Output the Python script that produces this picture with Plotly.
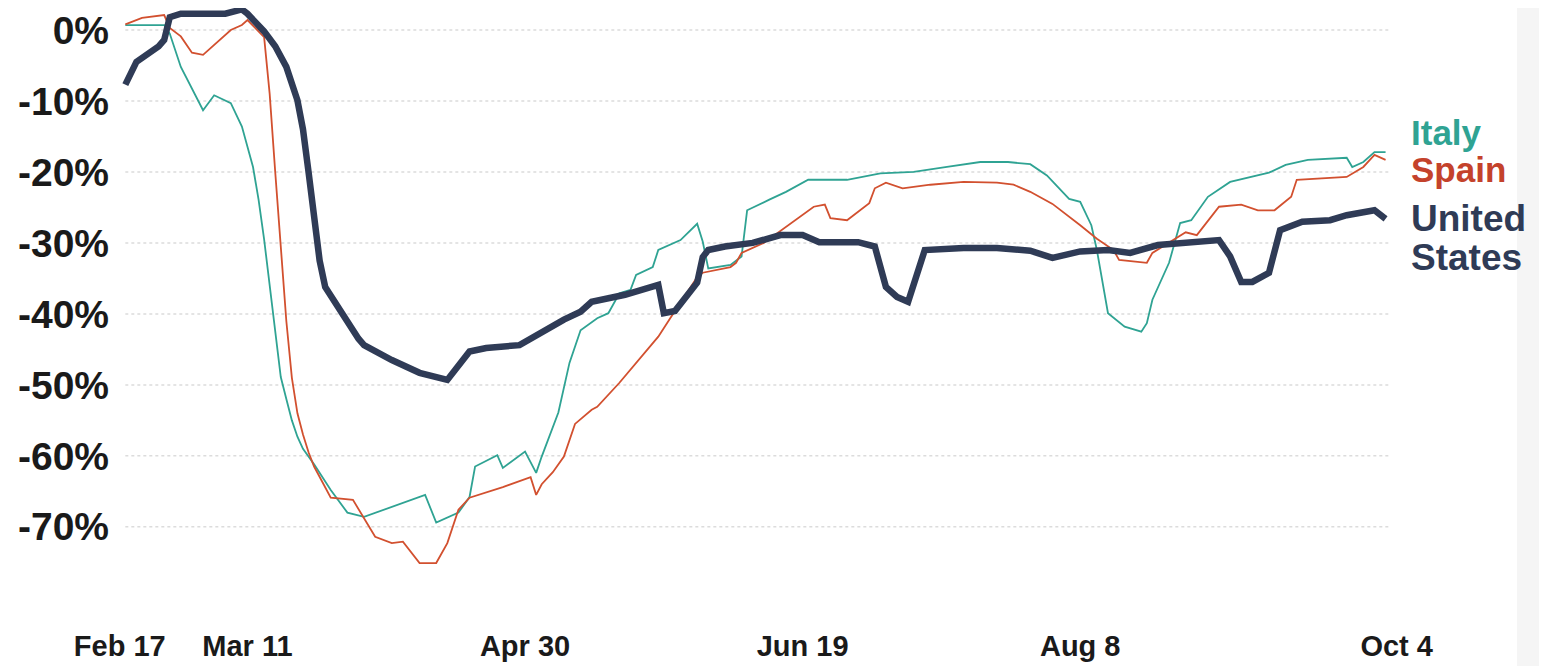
import plotly.graph_objects as go

# mobility change vs baseline
italy_dates = [
    "2020-02-18", "2020-02-25", "2020-02-26", "2020-02-28", "2020-03-03", "2020-03-05",
    "2020-03-08", "2020-03-10", "2020-03-12", "2020-03-13", "2020-03-14", "2020-03-15",
    "2020-03-16", "2020-03-17", "2020-03-18", "2020-03-19", "2020-03-20", "2020-03-21",
    "2020-03-22", "2020-03-23", "2020-03-26", "2020-03-29", "2020-04-01", "2020-04-06",
    "2020-04-12", "2020-04-14", "2020-04-18", "2020-04-20", "2020-04-21", "2020-04-25",
    "2020-04-26", "2020-04-30", "2020-05-02", "2020-05-03", "2020-05-06", "2020-05-08",
    "2020-05-10", "2020-05-13", "2020-05-15", "2020-05-17", "2020-05-19", "2020-05-20",
    "2020-05-23", "2020-05-24", "2020-05-28", "2020-05-31", "2020-06-01", "2020-06-02",
    "2020-06-06", "2020-06-08", "2020-06-09", "2020-06-13", "2020-06-16", "2020-06-20",
    "2020-06-27", "2020-07-03", "2020-07-09", "2020-07-15", "2020-07-21", "2020-07-26",
    "2020-07-30", "2020-08-02", "2020-08-06", "2020-08-08", "2020-08-10", "2020-08-11",
    "2020-08-13", "2020-08-16", "2020-08-19", "2020-08-20", "2020-08-21", "2020-08-24",
    "2020-08-26", "2020-08-28", "2020-08-31", "2020-09-04", "2020-09-11", "2020-09-14",
    "2020-09-18", "2020-09-25", "2020-09-26", "2020-09-28", "2020-09-30", "2020-10-02",
]
italy_values = [
    0.7, 0.7, -0.5, -5.2, -11.3, -9.2,
    -10.3, -13.6, -19.3, -23.9, -29.5, -36,
    -43, -48.9, -52, -55, -57.3, -59,
    -60.1, -61.2, -64.8, -68, -68.6, -67.2,
    -65.5, -69.4, -68, -65.8, -61.5, -59.9,
    -61.7, -59.4, -62.4, -60.1, -53.9, -46.9,
    -42.3, -40.6, -39.9, -37.1, -36.6, -34.5,
    -33.4, -31, -29.6, -27.3, -29.8, -33.6,
    -33.1, -31.9, -25.4, -23.9, -22.8, -21.1,
    -21.1, -20.2, -20, -19.3, -18.6, -18.6,
    -18.9, -20.5, -23.8, -24.2, -27.5, -31,
    -39.9, -41.8, -42.5, -41.3, -38, -32.8,
    -27.2, -26.8, -23.5, -21.4, -20.1, -19,
    -18.3, -18, -19.3, -18.6, -17.2, -17.2,
]

spain_dates = [
    "2020-02-18", "2020-02-21", "2020-02-25", "2020-02-26", "2020-02-28", "2020-03-01",
    "2020-03-03", "2020-03-04", "2020-03-06", "2020-03-08", "2020-03-10", "2020-03-11",
    "2020-03-14", "2020-03-15", "2020-03-16", "2020-03-17", "2020-03-18", "2020-03-19",
    "2020-03-20", "2020-03-21", "2020-03-22", "2020-03-23", "2020-03-26", "2020-03-30",
    "2020-04-03", "2020-04-06", "2020-04-08", "2020-04-11", "2020-04-14", "2020-04-16",
    "2020-04-18", "2020-04-20", "2020-04-26", "2020-05-01", "2020-05-02", "2020-05-03",
    "2020-05-05", "2020-05-07", "2020-05-09", "2020-05-12", "2020-05-13", "2020-05-17",
    "2020-05-20", "2020-05-24", "2020-05-26", "2020-05-31", "2020-06-01", "2020-06-06",
    "2020-06-07", "2020-06-08", "2020-06-12", "2020-06-16", "2020-06-21", "2020-06-23",
    "2020-06-24", "2020-06-27", "2020-07-01", "2020-07-02", "2020-07-04", "2020-07-07",
    "2020-07-12", "2020-07-18", "2020-07-24", "2020-07-27", "2020-07-30", "2020-08-03",
    "2020-08-07", "2020-08-08", "2020-08-11", "2020-08-14", "2020-08-15", "2020-08-20",
    "2020-08-21", "2020-08-24", "2020-08-27", "2020-08-29", "2020-09-02", "2020-09-06",
    "2020-09-09", "2020-09-12", "2020-09-15", "2020-09-16", "2020-09-22", "2020-09-25",
    "2020-09-28", "2020-09-30", "2020-10-02",
]
spain_values = [
    0.8, 1.7, 2.1, 0.3, -0.9, -3.2,
    -3.5, -2.8, -1.4, 0, 0.7, 1.4,
    -1.0, -9, -20, -31, -41, -49,
    -54, -57, -59.5, -61.5, -65.9, -66.2,
    -71.4, -72.3, -72.1, -75.1, -75.1, -72.3,
    -67.6, -65.9, -64.4, -63, -65.5, -64,
    -62.3, -60.1, -55.5, -53.5, -53.1, -49.7,
    -46.9, -43.2, -40.8, -34.8, -34.2, -33.4,
    -32.8, -31.4, -30, -27.7, -24.9, -24.6,
    -26.5, -26.8, -24.4, -22.3, -21.5, -22.3,
    -21.8, -21.4, -21.5, -21.8, -22.8, -24.5,
    -26.8, -27.5, -29.4, -31, -32.4, -32.8,
    -31.4, -30, -28.5, -28.9, -24.9, -24.6,
    -25.4, -25.4, -23.5, -21.1, -20.8, -20.7,
    -19.3, -17.6, -18.3,
]

us_dates = [
    "2020-02-18", "2020-02-20", "2020-02-24", "2020-02-25", "2020-02-26", "2020-02-28",
    "2020-03-07", "2020-03-10", "2020-03-11", "2020-03-14", "2020-03-16", "2020-03-18",
    "2020-03-20", "2020-03-21", "2020-03-22", "2020-03-23", "2020-03-24", "2020-03-25",
    "2020-03-27", "2020-03-31", "2020-04-01", "2020-04-06", "2020-04-11", "2020-04-16",
    "2020-04-20", "2020-04-23", "2020-04-29", "2020-05-02", "2020-05-04", "2020-05-07",
    "2020-05-10", "2020-05-12", "2020-05-18", "2020-05-24", "2020-05-25", "2020-05-27",
    "2020-05-30", "2020-05-31", "2020-06-01", "2020-06-02", "2020-06-05", "2020-06-10",
    "2020-06-15", "2020-06-19", "2020-06-22", "2020-06-29", "2020-07-02", "2020-07-04",
    "2020-07-06", "2020-07-08", "2020-07-11", "2020-07-18", "2020-07-24", "2020-07-30",
    "2020-08-03", "2020-08-08", "2020-08-13", "2020-08-17", "2020-08-22", "2020-08-27",
    "2020-09-02", "2020-09-04", "2020-09-06", "2020-09-08", "2020-09-11", "2020-09-13",
    "2020-09-17", "2020-09-22", "2020-09-25", "2020-09-30", "2020-10-02",
]
us_values = [
    -7.7, -4.5, -2.3, -1.4, 1.8, 2.3,
    2.3, 2.9, 2.3, -0.2, -2.3, -5.2,
    -9.9, -14, -20, -27, -32.5, -36.2,
    -38.7, -43.5, -44.4, -46.5, -48.3, -49.3,
    -45.3, -44.8, -44.4, -43, -42.3, -40.8,
    -39.7, -38.3, -37.3, -35.9, -39.9, -39.6,
    -36.6, -35.6, -32, -31, -30.5, -30,
    -28.9, -28.9, -29.9, -29.9, -30.5, -36.2,
    -37.6, -38.3, -31, -30.7, -30.7, -31.1,
    -32.1, -31.2, -31, -31.4, -30.3, -29.9,
    -29.6, -31.9, -35.5, -35.5, -34.2, -28.2,
    -27, -26.8, -26.1, -25.4, -26.6,
]

y_ticks = [0, -10, -20, -30, -40, -50, -60, -70]
y_labels = ["0%", "-10%", "-20%", "-30%", "-40%", "-50%", "-60%", "-70%"]
x_ticks = ["2020-02-17", "2020-03-11", "2020-04-30", "2020-06-19", "2020-08-08", "2020-10-04"]
x_labels = ["Feb 17", "Mar 11", "Apr 30", "Jun 19", "Aug 8", "Oct 4"]

TEAL = "#2fa393"
RED = "#d2502f"
NAVY = "#2f3b56"
FONT = "Liberation Sans, Arial, sans-serif"

fig = go.Figure()

# dotted grid, only across the span of the data
for v in y_ticks:
    fig.add_shape(
        type="line", xref="x", yref="y",
        x0="2020-02-18", x1="2020-10-03", y0=v, y1=v,
        line=dict(color="#dcdcdc", width=1.5, dash="dot"),
        layer="below",
    )

# faint grey strip at the right edge of the picture
fig.add_shape(type="rect", xref="paper", yref="paper", x0=1.087, x1=1.12, y0=-0.2, y1=1.1,
              fillcolor="#f5f5f5", line=dict(width=0), layer="below")

fig.add_trace(go.Scatter(x=italy_dates, y=italy_values, mode="lines",
                         line=dict(color=TEAL, width=1.8), name="Italy"))
fig.add_trace(go.Scatter(x=spain_dates, y=spain_values, mode="lines",
                         line=dict(color=RED, width=1.8), name="Spain"))
fig.add_trace(go.Scatter(x=us_dates, y=us_values, mode="lines",
                         line=dict(color=NAVY, width=6.5), name="United States"))

# labels at the right end instead of a legend
labels = [
    ("Italy", -14.5, TEAL, 35),
    ("Spain", -19.7, "#c4422b", 35),
    ("United", -26.6, NAVY, 37),
    ("States", -32.1, NAVY, 37),
]
for text, yv, col, size in labels:
    fig.add_annotation(
        text=text, xref="paper", x=1.0031, yref="y", y=yv,
        xanchor="left", yanchor="middle", showarrow=False,
        font=dict(family=FONT, size=size, color=col, weight="bold"),
    )

# the page body adds 8px around the figure, so the figure is 8px smaller
fig.update_layout(
    width=1539, height=658,
    margin=dict(l=109, r=142, t=0, b=54),
    paper_bgcolor="white", plot_bgcolor="white",
    showlegend=False,
    xaxis=dict(
        type="date",
        range=["2020-02-16 12:00", "2020-10-05 12:00"],
        tickvals=x_ticks, ticktext=x_labels,
        showgrid=False, zeroline=False, showline=False, ticks="",
        tickfont=dict(family=FONT, size=29, color="#1a1a1a", weight="bold"),
        ticklabelstandoff=14, automargin=False,
    ),
    yaxis=dict(
        range=[-82, 3.1],
        tickvals=y_ticks, ticktext=y_labels,
        showgrid=False, zeroline=False, showline=False, ticks="",
        tickfont=dict(family=FONT, size=39, color="#1a1a1a", weight="bold"),
        ticklabelstandoff=7, automargin=False,
    ),
)

fig.write_html("out.html")
